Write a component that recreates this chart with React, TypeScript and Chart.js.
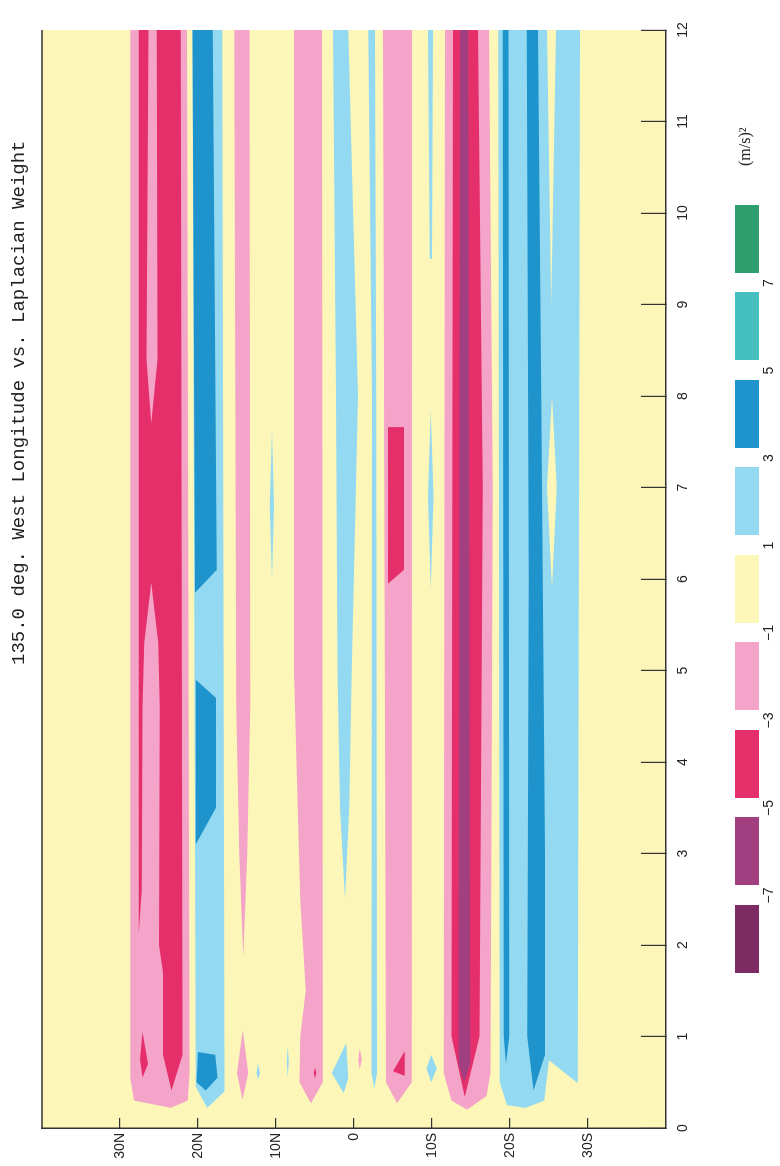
import React, { useEffect, useRef } from 'react';
import { Chart, registerables } from 'chart.js';

Chart.register(...registerables);

// ---- axes ----
const WEIGHT_RANGE = [0, 12];
const LAT_RANGE = [-40, 40];
const WEIGHT_TICKS = [0, 1, 2, 3, 4, 5, 6, 7, 8, 9, 10, 11, 12];
const LAT_TICKS = [30, 20, 10, 0, -10, -20, -30];

const TITLE = '135.0 deg. West Longitude vs. Laplacian Weight';
const UNIT_LABEL = '(m/s)²';

// ---- contour classes ----
const LEVEL_BOUNDS = ['−7', '−5', '−3', '−1', '1', '3', '5', '7'];
const CLASS_COLORS = ['#7d2c63', '#a13f80', '#e52f6b', '#f4a3c9', '#fcf6b8', '#93d9f1', '#1f93cb', '#46bfbf', '#2f9e6e'];

// ---- filled regions, vertices as [weight, latitude] ----
const BACKGROUND_AREA = [[0, -40], [12, -40], [12, 40], [0, 40]];

const PINK_AREAS = [
  [[12, 28.7], [0.55, 28.7], [0.3, 28.2], [0.22, 23.5], [0.3, 21.3], [0.6, 21.1], [12, 21.4]],
  [[12, 15.35], [4.6, 15.1], [3.0, 14.7], [1.87, 14.2], [3.0, 13.7], [4.6, 13.3], [12, 13.4]],
  [[1.07, 14.25], [0.6, 15.0], [0.31, 14.3], [0.6, 13.55]],
  [[12, 7.7], [5, 7.7], [2.5, 6.9], [1.5, 6.2], [1.0, 6.9], [0.5, 7.0], [0.27, 5.5], [0.5, 4.0], [1.5, 4.0], [12, 4.1]],
  [[0.87, -0.75], [0.75, -0.55], [0.64, -0.75], [0.75, -1.0]],
  [[12, -3.72], [0.5, -4.1], [0.27, -5.5], [0.5, -7.4], [12, -7.45]],
  [[12, -11.67], [0.6, -11.5], [0.3, -12.5], [0.2, -14.5], [0.35, -17.0], [0.6, -17.5], [7, -17.8], [12, -17.3]],
];

const LIGHT_BLUE_AREAS = [
  [[12, 20.7], [0.45, 20.3], [0.22, 18.8], [0.4, 16.6], [12, 16.9]],
  [[0.7, 12.3], [0.6, 12.5], [0.53, 12.3], [0.6, 12.05]],
  [[0.9, 8.5], [0.72, 8.62], [0.55, 8.5], [0.72, 8.38]],
  [[7.63, 10.5], [6.8, 10.8], [5.99, 10.5], [6.8, 10.25]],
  [[12, 2.7], [8, 2.3], [5, 2.1], [3.5, 1.8], [2.5, 1.15], [3.5, 0.6], [5, 0.3], [8, -0.5], [12, 0.75]],
  [[0.93, 1.0], [0.6, 2.85], [0.38, 1.3], [0.55, 0.75]],
  [[12, -1.83], [8, -2.3], [0.6, -2.25], [0.43, -2.6], [0.6, -2.95], [8, -2.85], [12, -2.7]],
  [[12, -9.5], [9.5, -9.7], [9.5, -10.0], [12, -10.13]],
  [[7.85, -9.85], [6.9, -9.5], [5.88, -9.85], [6.9, -10.2]],
  [[0.8, -9.9], [0.65, -9.3], [0.5, -9.9], [0.65, -10.6]],
  [[12, -18.5], [0.5, -18.7], [0.25, -19.6], [0.22, -22.0], [0.3, -24.4], [0.74, -25.0], [0.49, -28.7], [12, -28.97]],
];

const YELLOW_GAPS = [
  [[12, -24.75], [9.0, -25.3], [12, -25.9]],
  [[8.0, -25.4], [7.0, -24.75], [5.9, -25.4], [7.0, -26.0]],
];

const CRIMSON_AREAS = [
  [[12, 27.6], [2.13, 27.6], [2.0, 25.0], [1.7, 24.5], [0.8, 24.5], [0.41, 23.4], [0.8, 22.0], [12, 22.2]],
  [[1.05, 27.1], [0.75, 27.45], [0.55, 27.1], [0.7, 26.4]],
  [[0.66, 5.0], [0.6, 5.15], [0.54, 5.0], [0.6, 4.85]],
  [[7.66, -4.35], [5.95, -4.35], [6.1, -6.4], [7.66, -6.4]],
  [[0.62, -5.0], [0.84, -6.5], [0.57, -6.5]],
  [[12, -12.7], [1.0, -12.5], [0.34, -14.2], [1.0, -16.1], [7, -16.5], [12, -15.9]],
];

const PINK_GAPS = [
  [[12, 26.35], [8.4, 26.6], [7.7, 26.0], [8.4, 25.2], [12, 25.3]],
  [[5.96, 26.0], [5.3, 26.9], [4.6, 27.1], [2.6, 27.2], [2.13, 27.6], [1.9, 27.6], [1.9, 25.0], [4.6, 24.9], [5.3, 25.1]],
];

const DARK_BLUE_AREAS = [
  [[12, 20.7], [5.85, 20.4], [6.1, 17.6], [12, 18.1]],
  [[4.9, 20.3], [3.1, 20.3], [3.5, 17.7], [4.7, 17.7]],
  [[0.83, 20.0], [0.5, 20.2], [0.41, 19.0], [0.55, 17.5], [0.8, 17.8]],
  [[12, -19.06], [1.0, -19.2], [0.7, -19.5], [1.0, -19.9], [12, -19.8]],
  [[12, -22.15], [6, -22.4], [1.0, -22.2], [0.41, -23.0], [0.8, -24.5], [3, -24.5], [8, -24.0], [12, -23.6]],
];

const PURPLE_AREAS = [
  [[12, -13.6], [0.7, -13.4], [0.5, -14.1], [0.7, -14.9], [12, -14.65]],
];

// drawing order: [areas, class index]
const LAYERS: [number[][][], number][] = [
  [[BACKGROUND_AREA], 4],
  [PINK_AREAS, 3],
  [LIGHT_BLUE_AREAS, 5],
  [YELLOW_GAPS, 4],
  [CRIMSON_AREAS, 2],
  [PINK_GAPS, 3],
  [DARK_BLUE_AREAS, 6],
  [PURPLE_AREAS, 1],
];

const contourPlugin = {
  id: 'contourFill',
  beforeDraw(chart: any) {
    const { ctx, chartArea: a } = chart;
    const xs = chart.scales.x;
    const ys = chart.scales.y;
    ctx.save();
    ctx.beginPath();
    ctx.rect(a.left, a.top, a.right - a.left, a.bottom - a.top);
    ctx.clip();
    for (const [areas, cls] of LAYERS) {
      ctx.fillStyle = CLASS_COLORS[cls];
      for (const poly of areas) {
        ctx.beginPath();
        poly.forEach(([w, lat], i) => {
          const px = xs.getPixelForValue(w);
          const py = ys.getPixelForValue(lat);
          if (i === 0) ctx.moveTo(px, py);
          else ctx.lineTo(px, py);
        });
        ctx.closePath();
        ctx.fill();
      }
    }
    ctx.restore();
  },
  afterDraw(chart: any) {
    const { ctx, chartArea: a } = chart;
    ctx.save();
    ctx.strokeStyle = '#333';
    ctx.lineWidth = 1.5;
    ctx.beginPath();
    ctx.moveTo(a.left, a.top);
    ctx.lineTo(a.right, a.top);
    ctx.stroke();
    ctx.restore();
  },
};

const latLabel = (v: number) => (v === 0 ? '0' : v > 0 ? `${v}N` : `${-v}S`);

const CANVAS_W = 1166;
const CANVAS_H = 780;

function ContourChart() {
  const ref = useRef<HTMLCanvasElement | null>(null);
  useEffect(() => {
    if (!ref.current) return;
    const chart = new Chart(ref.current, {
      type: 'scatter',
      data: { datasets: [] },
      plugins: [contourPlugin],
      options: {
        animation: false,
        responsive: false,
        devicePixelRatio: 1,
        layout: { autoPadding: false, padding: { top: 42, right: 30, left: 0, bottom: 0 } },
        plugins: { legend: { display: false }, tooltip: { enabled: false }, title: { display: false } },
        scales: {
          x: {
            type: 'linear',
            position: 'bottom',
            min: WEIGHT_RANGE[0],
            max: WEIGHT_RANGE[1],
            afterBuildTicks: (s: any) => { s.ticks = WEIGHT_TICKS.map((v) => ({ value: v })); },
            afterFit: (s: any) => { s.height = 114; s.paddingLeft = 0; s.paddingRight = 0; },
            grid: { drawOnChartArea: false, drawTicks: true, tickLength: -25, color: '#333', lineWidth: 1.2 },
            border: { display: true, color: '#333', width: 1.5 },
            ticks: { padding: 34, color: '#222', font: { family: 'Liberation Sans', size: 14 }, maxRotation: 0, autoSkip: false },
          },
          y: {
            type: 'linear',
            position: 'left',
            min: LAT_RANGE[0],
            max: LAT_RANGE[1],
            afterBuildTicks: (s: any) => { s.ticks = LAT_TICKS.map((v) => ({ value: v })); },
            afterFit: (s: any) => { s.width = 38; s.paddingTop = 0; s.paddingBottom = 0; },
            grid: { drawOnChartArea: false, drawTicks: true, tickLength: -10, color: '#333', lineWidth: 1.2 },
            border: { display: true, color: '#333', width: 1.5 },
            ticks: { padding: 15, color: '#222', font: { family: 'Liberation Sans', size: 14 }, autoSkip: false, callback: (v: any) => latLabel(Number(v)) },
          },
        },
      },
    } as any);
    return () => chart.destroy();
  }, []);
  return <canvas ref={ref} width={CANVAS_W} height={CANVAS_H} style={{ position: 'absolute', left: 0, top: 0, width: CANVAS_W, height: CANVAS_H }} />;
}

const LEGEND_LEFT = 193;
const LEGEND_PITCH = 87.5;
const LEGEND_BOX_W = 68;
const LEGEND_TOP = 735;
const LEGEND_BOX_H = 24;

export default function App() {
  return (
    <div style={{ position: 'absolute', left: 0, top: 0, width: 780, height: 1166, overflow: 'hidden', background: '#fff' }}>
      <div style={{ position: 'absolute', left: 0, top: 0, width: CANVAS_W, height: CANVAS_H, transformOrigin: '0 0', transform: 'translate(0px, 1166px) rotate(-90deg)' }}>
        <ContourChart />
        <div style={{ position: 'absolute', left: 501, top: 8, font: "19px 'Liberation Mono'", color: '#222', whiteSpace: 'nowrap' }}>{TITLE}</div>
        {CLASS_COLORS.map((c, i) => (
          <div key={'b' + i} style={{ position: 'absolute', left: LEGEND_LEFT + i * LEGEND_PITCH, top: LEGEND_TOP, width: LEGEND_BOX_W, height: LEGEND_BOX_H, background: c }} />
        ))}
        {LEVEL_BOUNDS.map((t, i) => (
          <div key={'l' + i} style={{ position: 'absolute', left: LEGEND_LEFT + (i + 1) * LEGEND_PITCH - 60, width: 100, textAlign: 'center', top: LEGEND_TOP + LEGEND_BOX_H + 1, font: "14px 'Liberation Sans'", color: '#222' }}>{t}</div>
        ))}
        <div style={{ position: 'absolute', left: 1000, top: 736, font: "16px 'Liberation Serif'", color: '#222', whiteSpace: 'nowrap' }}>{UNIT_LABEL}</div>
      </div>
    </div>
  );
}
